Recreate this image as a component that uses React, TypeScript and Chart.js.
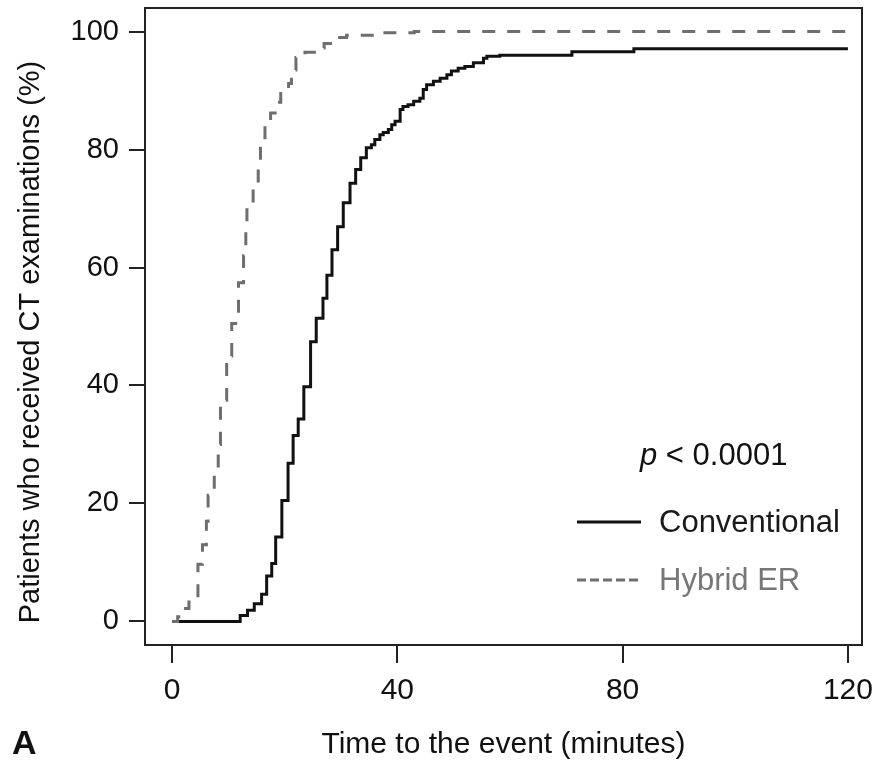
import React, { useEffect, useRef } from "react";
import { Chart, registerables } from "chart.js";

Chart.register(...registerables);

// ---- data ----
const conventionalTimes = [
  0, 12.1, 13.4, 14.6, 15.9, 16.8, 17.7, 18.4, 19.5, 20.6, 21.5, 22.4, 23.4, 24.6, 25.6,
  26.8, 27.5, 28.4, 29.4, 30.4, 31.6, 32.6, 33.5, 34.5, 35.4, 36.0, 36.9, 37.5, 38.4, 39.0,
  39.6, 40.5, 41.0, 41.9, 42.9, 44.0, 44.6, 45.2, 46.4, 47.6, 48.8, 49.6, 50.8, 52.0, 53.5,
  55.3, 55.9, 58.2, 71.0, 82.0, 120,
];
const conventionalValues = [
  0, 1.0, 1.9, 3.0, 4.6, 7.7, 9.8, 14.3, 20.5, 26.8, 31.5, 34.3, 39.8, 47.4, 51.4,
  54.8, 58.7, 63.0, 66.9, 71.0, 74.3, 76.6, 78.6, 80.3, 80.8, 81.7, 82.5, 82.9, 83.4, 84.2,
  84.8, 86.8, 87.3, 87.6, 88.2, 88.7, 90.2, 91.0, 91.6, 92.1, 92.7, 93.3, 93.8, 94.1, 94.7,
  95.5, 95.8, 96.0, 96.6, 97.1, 97.1,
];
const hybridTimes = [
  0, 1.0, 2.0, 3.0, 4.6, 5.4, 6.1, 6.4, 7.5, 8.2, 8.6, 9.7, 10.6, 11.8, 12.7,
  13.1, 13.3, 14.4, 15.3, 15.7, 16.5, 17.5, 18.6, 19.3, 20.7, 21.2, 22.0, 23.6, 26.0, 27.0,
  29.0, 31.0, 37.0, 43.0, 120,
];
const hybridValues = [
  0, 0.8, 2.2, 3.3, 9.7, 13.0, 17.0, 21.4, 25.0, 30.0, 37.5, 45.0, 50.5, 57.4, 62.0,
  66.0, 70.3, 73.5, 77.0, 80.8, 85.0, 86.2, 88.0, 89.5, 91.2, 93.5, 95.6, 96.5, 97.2, 98.0,
  99.0, 99.4, 99.8, 100, 100,
];
const seriesLabels = ["Conventional", "Hybrid ER"];
const xTicks = [0, 40, 80, 120];
const yTicks = [0, 20, 40, 60, 80, 100];
const xTitle = "Time to the event (minutes)";
const yTitle = "Patients who received CT examinations (%)";
const pLetter = "p";
const pRest = " < 0.0001";
const panelLabel = "A";

const FONT = "'Liberation Sans', Arial, Helvetica, sans-serif";
const SOLID = "#111111";
const GRAY = "#6e6e6e";

const decorPlugin = {
  id: "decor",
  afterDraw(chart: any) {
    const { ctx, chartArea } = chart;
    ctx.save();
    // box
    ctx.strokeStyle = "#222";
    ctx.lineWidth = 2;
    ctx.strokeRect(chartArea.left, chartArea.top, chartArea.right - chartArea.left, chartArea.bottom - chartArea.top);

    // y title
    ctx.save();
    ctx.translate(31, 342);
    ctx.rotate(-Math.PI / 2);
    ctx.fillStyle = "#111";
    ctx.font = `29px ${FONT}`;
    ctx.textAlign = "center";
    ctx.textBaseline = "middle";
    ctx.fillText(yTitle, 0, 0);
    ctx.restore();

    // panel label
    ctx.fillStyle = "#111";
    ctx.font = `bold 34px ${FONT}`;
    ctx.textAlign = "left";
    ctx.textBaseline = "middle";
    ctx.fillText(panelLabel, 12, 745);

    // p value
    ctx.font = `italic 31px ${FONT}`;
    ctx.fillStyle = "#111";
    ctx.fillText(pLetter, 640, 456);
    const pw = ctx.measureText(pLetter).width;
    ctx.font = `31px ${FONT}`;
    ctx.fillText(pRest, 640 + pw, 456);

    // legend
    ctx.lineWidth = 3;
    ctx.strokeStyle = SOLID;
    ctx.setLineDash([]);
    ctx.beginPath();
    ctx.moveTo(577, 522);
    ctx.lineTo(641, 522);
    ctx.stroke();
    ctx.font = `31px ${FONT}`;
    ctx.fillStyle = "#1a1a1a";
    ctx.fillText(seriesLabels[0], 659, 523);

    ctx.strokeStyle = GRAY;
    ctx.setLineDash([9, 4]);
    ctx.beginPath();
    ctx.moveTo(577, 580);
    ctx.lineTo(641, 580);
    ctx.stroke();
    ctx.setLineDash([]);
    ctx.fillStyle = "#777";
    ctx.fillText(seriesLabels[1], 659, 581);
    ctx.restore();
  },
};

export default function App() {
  const ref = useRef<HTMLCanvasElement | null>(null);
  useEffect(() => {
    if (!ref.current) return;
    const chart = new Chart(ref.current, {
      type: "line",
      data: {
        datasets: [
          {
            label: seriesLabels[1],
            data: hybridTimes.map((t, i) => ({ x: t, y: hybridValues[i] })),
            borderColor: GRAY,
            borderWidth: 3,
            borderDash: [13, 12],
            stepped: "before",
            pointRadius: 0,
            fill: false,
          },
          {
            label: seriesLabels[0],
            data: conventionalTimes.map((t, i) => ({ x: t, y: conventionalValues[i] })),
            borderColor: SOLID,
            borderWidth: 3,
            stepped: "before",
            pointRadius: 0,
            fill: false,
          },
        ],
      },
      options: {
        responsive: false,
        animation: false,
        layout: { padding: { left: 0, right: 15, top: 8, bottom: 0 } },
        plugins: { legend: { display: false }, tooltip: { enabled: false } },
        events: [],
        scales: {
          x: {
            type: "linear",
            min: -4.8,
            max: 122.5,
            afterBuildTicks: (s: any) => {
              s.ticks = xTicks.map((v) => ({ value: v }));
            },
            afterFit: (s: any) => {
              s.height = 120;
              s.paddingLeft = 0;
              s.paddingRight = 0;
            },
            grid: { drawOnChartArea: false, drawTicks: true, tickLength: 18, color: "#222", lineWidth: 2 },
            border: { display: false },
            ticks: {
              autoSkip: false,
              maxRotation: 0,
              padding: 10,
              color: "#111",
              font: { family: FONT, size: 30 },
            },
            title: {
              display: true,
              text: xTitle,
              color: "#111",
              font: { family: FONT, size: 30 },
              padding: { top: 0, bottom: 2 },
            },
          },
          y: {
            type: "linear",
            min: -4,
            max: 104,
            afterBuildTicks: (s: any) => {
              s.ticks = yTicks.map((v) => ({ value: v }));
            },
            afterFit: (s: any) => {
              s.width = 145;
              s.paddingTop = 0;
              s.paddingBottom = 0;
            },
            grid: { drawOnChartArea: false, drawTicks: true, tickLength: 16, color: "#222", lineWidth: 2 },
            border: { display: false },
            ticks: {
              autoSkip: false,
              padding: 10,
              color: "#111",
              font: { family: FONT, size: 29 },
            },
          },
        },
      },
      plugins: [decorPlugin],
    });
    return () => chart.destroy();
  }, []);
  return (
    <div style={{ position: "fixed", left: 0, top: 0, width: 877, height: 765, background: "#fff" }}>
      <canvas ref={ref} width={877} height={765} style={{ display: "block" }} />
    </div>
  );
}
